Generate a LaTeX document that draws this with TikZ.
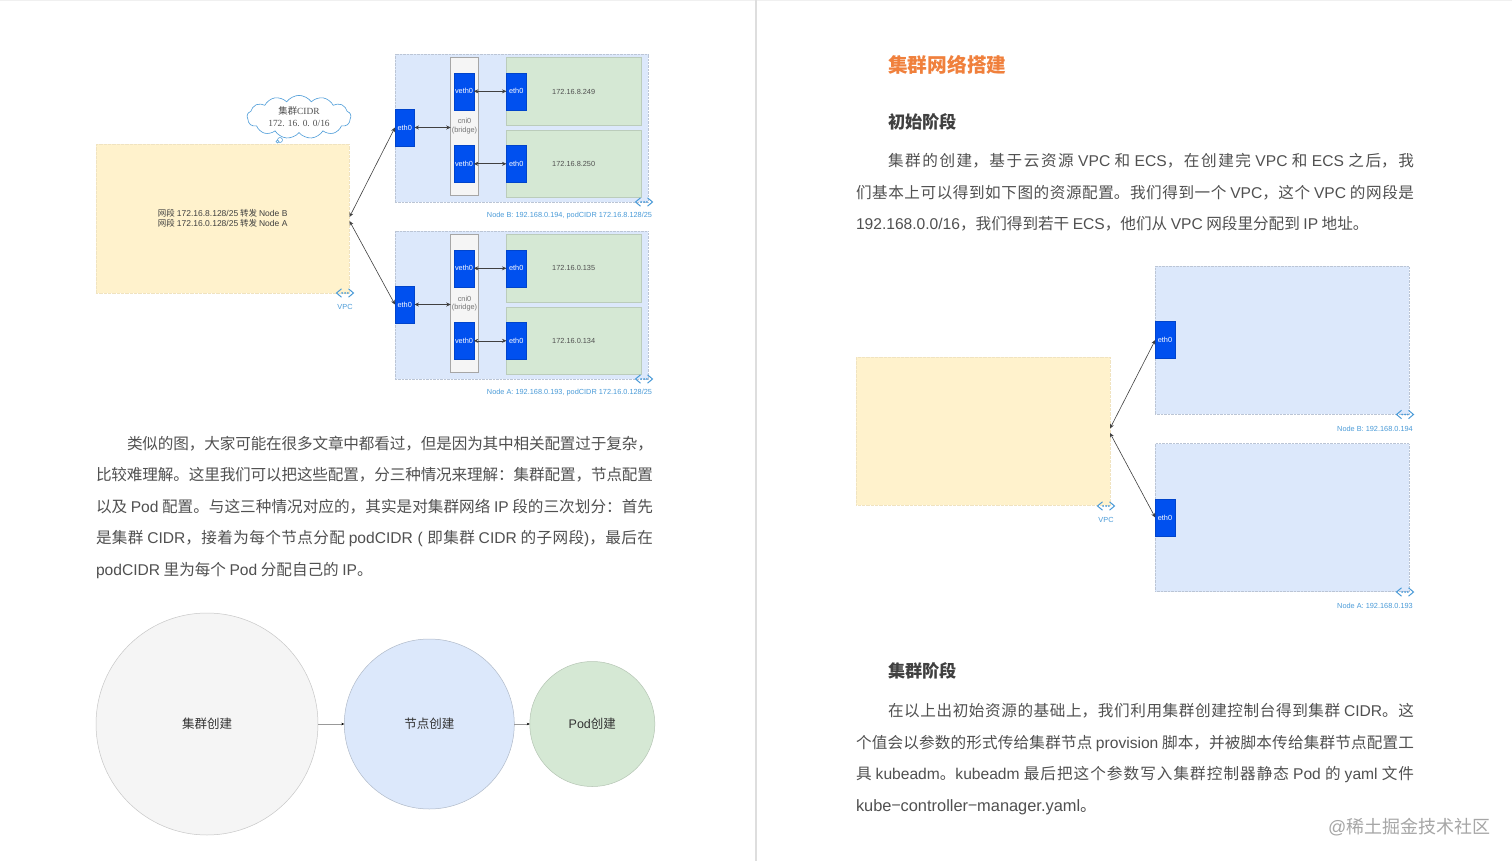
\documentclass[tikz,border=0pt]{standalone}
\usepackage{fontspec}
\usepackage{tikz}
\usetikzlibrary{shapes.symbols,arrows.meta}
\setmainfont{Noto Sans CJK SC}
\newfontfamily\la{Liberation Sans}
\newfontfamily\sr{Liberation Serif}
\XeTeXlinebreaklocale "zh"
\XeTeXlinebreakskip=0pt plus 3pt minus 0.5pt
\tolerance=10000
\definecolor{txt}{HTML}{505050}
\definecolor{ttl}{HTML}{F0803C}
\definecolor{vblue}{HTML}{4A9BD8}
\definecolor{ethc}{HTML}{0050EF}
\definecolor{nodec}{HTML}{DCE8FB}
\definecolor{podc}{HTML}{D5E8D4}
\definecolor{vpcc}{HTML}{FFF2CC}
\tikzstyle{n}=[inner sep=0,outer sep=0,font=\fontsize{7.35}{8.8}\selectfont\la,text=txt,align=center]
\tikzstyle{panel}=[n,fill=nodec,draw=nodec!85!black,densely dotted,line width=0.4pt,minimum width=253.5pt,minimum height=148pt]
\tikzstyle{vpcbox}=[n,fill=vpcc,draw=vpcc!94!black,densely dotted,line width=0.3pt,minimum width=253.5pt,minimum height=148.5pt,text=black!75,font=\fontsize{8.5}{10}\selectfont]
\tikzstyle{pod}=[n,fill=podc,draw=podc!88!black,line width=0.6pt,minimum width=134.5pt,minimum height=67.5pt]
\tikzstyle{bridge}=[n,fill=black!4,draw=black!35,line width=0.8pt,minimum width=27.5pt,minimum height=138pt,text=black!55]
\tikzstyle{eth}=[n,fill=ethc,draw=ethc!85!black,line width=0.3pt,minimum width=19.5pt,minimum height=37pt,text=white]
\tikzstyle{lbl}=[n,text=vblue]
\tikzstyle{blob}=[n,circle,line width=0.5pt,text=black!80,font=\fontsize{12.5}{15}\selectfont]
\tikzstyle{para}=[inner sep=0,outer sep=0,anchor=west,align=justify,text=txt,text height=14.9pt,text depth=3.1pt,font=\fontsize{15.6}{18}\selectfont]
\tikzstyle{head}=[inner sep=0,outer sep=0,anchor=west,font=\bfseries\fontsize{17.2}{20}\selectfont,text=black!75]
\tikzstyle{link}=[black!75,line width=0.6pt,{Stealth[length=4.5pt,width=4pt]}-{Stealth[length=4.5pt,width=4pt]}]
\tikzstyle{flow}=[black!40,line width=0.6pt,-{Stealth[length=3pt,width=2.5pt,black]}]
\tikzset{vpcicon/.pic={
    \draw[vblue,line width=1pt] (-3.5,-4.2) -- (-8.5,0) -- (-3.5,4.2);
    \draw[vblue,line width=1pt] (3.5,-4.2) -- (8.5,0) -- (3.5,4.2);
    \fill[vblue] (-2.8,0) circle (1) (0,0) circle (1) (2.8,0) circle (1);
}}
\newcommand{\lineof}[1]{\parfillskip=0pt\relax #1\par}

\begin{document}
\begin{tikzpicture}[x=1pt,y=-1pt]
    \useasboundingbox (0,0) rectangle (1512,861);
    \fill[white] (0,0) rectangle (1512,861);
    \fill[black!6] (0,0) rectangle (1512,1);
    \fill[black!13] (755,0) rectangle (757,861);

    % left page, top diagram
    \node[vpcbox] (vpc) at (222.7,218.5) {网段 {\la 172.16.8.128/25} 转发 {\la Node B}\\网段 {\la 172.16.0.128/25} 转发 {\la Node A}};
    \node[cloud,cloud puffs=13,cloud puff arc=110,aspect=2.6,draw=vblue,fill=white,line width=0.6pt,inner sep=0,minimum width=104pt,minimum height=43pt,font=\fontsize{9.4}{12}\selectfont,text=txt,align=center] (cidr) at (299,117) {集群{\sr CIDR}\\{\sr 172. 16. 0. 0/16}};
    \node[draw=vblue,fill=white,circle,inner sep=0,minimum size=5pt,line width=0.5pt] (bub) at (280,140) {};
    \node[draw=vblue,fill=white,circle,inner sep=0,minimum size=3pt,line width=0.5pt] (bub2) at (277.5,141.5) {};
    \pic at (345,293) {vpcicon};
    \node[lbl] (vpctxt) at (345,307) {VPC};
    \coordinate (vpcb) at (349.5,217);
    \coordinate (vpca) at (349.5,221);

    \node[panel] (nb) at (521.5,128) {};
    \node[bridge] (cnib) at (464.5,126.5) {cni0\\(bridge)};
    \node[pod] (pb1) at (573.7,91.5) {172.16.8.249};
    \node[pod] (pb2) at (573.7,164) {172.16.8.250};
    \node[eth] (eb) at (404.7,127.5) {eth0};
    \node[eth] (vb1) at (464,91.3) {veth0};
    \node[eth] (vb2) at (464,163.8) {veth0};
    \node[eth] (eb1) at (516.2,91.3) {eth0};
    \node[eth] (eb2) at (516.2,163.8) {eth0};
    \pic at (644,202) {vpcicon};
    \node[lbl] (nbtxt) at (569.5,216) {Node B: 192.168.0.194, podCIDR 172.16.8.128/25};

    \node[panel] (na) at (521.5,304.7) {};
    \node[bridge] (cnia) at (464.5,303.5) {cni0\\(bridge)};
    \node[pod] (pa1) at (573.7,268.3) {172.16.0.135};
    \node[pod] (pa2) at (573.7,341) {172.16.0.134};
    \node[eth] (ea) at (404.7,304.5) {eth0};
    \node[eth] (va1) at (464,268.3) {veth0};
    \node[eth] (va2) at (464,340.8) {veth0};
    \node[eth] (ea1) at (516.2,268.3) {eth0};
    \node[eth] (ea2) at (516.2,340.8) {eth0};
    \pic at (644,379) {vpcicon};
    \node[lbl] (natxt) at (569.5,393) {Node A: 192.168.0.193, podCIDR 172.16.0.128/25};

    \draw[link] (eb.west) -- (vpcb);
    \draw[link] (ea.west) -- (vpca);
    \draw[link] (eb.east) -- (cnib.west |- eb.east);
    \draw[link] (ea.east) -- (cnia.west |- ea.east);
    \draw[link] (vb1.east) -- (eb1.west);
    \draw[link] (vb2.east) -- (eb2.west);
    \draw[link] (va1.east) -- (ea1.west);
    \draw[link] (va2.east) -- (ea2.west);

    % left page, text
    \node[para,text width=526pt] (l1) at (127,443.5) {\lineof{类似的图，大家可能在很多文章中都看过，但是因为其中相关配置过于复杂，}};
    \node[para,text width=557pt] (l2) at (96,475) {\lineof{比较难理解。这里我们可以把这些配置，分三种情况来理解：集群配置，节点配置}};
    \node[para,text width=557pt] (l3) at (96,506.5) {\lineof{以及 {\la Pod} 配置。与这三种情况对应的，其实是对集群网络 {\la IP} 段的三次划分：首先}};
    \node[para,text width=557pt] (l4) at (96,538) {\lineof{是集群 {\la CIDR}，接着为每个节点分配 {\la podCIDR ( }即集群 {\la CIDR} 的子网段{\la )}，最后在}};
    \node[para,align=left] (l5) at (96,569.5) {{\la podCIDR} 里为每个 {\la Pod} 分配自己的 {\la IP}。};

    % left page, circles
    \node[blob,fill=black!4,draw=black!22,minimum size=222pt] (c1) at (207,724) {集群创建};
    \node[blob,fill=nodec,draw=nodec!80!black,minimum size=170pt] (c2) at (429.3,724) {节点创建};
    \node[blob,fill=podc,draw=podc!85!black,minimum size=125pt] (c3) at (592.3,724) {{\la Pod}创建};
    \draw[flow] (c1) -- (c2);
    \draw[flow] (c2) -- (c3);

    % right page, text
    \node[inner sep=0,anchor=west,font=\bfseries\fontsize{19.7}{22}\selectfont,text=ttl] (title) at (888,64.5) {集群网络搭建};
    \node[head] (h1) at (888,122) {初始阶段};
    \node[para,text width=526pt] (r1) at (888,160.5) {\lineof{集群的创建，基于云资源 {\la VPC} 和 {\la ECS}，在创建完 {\la VPC} 和 {\la ECS} 之后，我}};
    \node[para,text width=558pt] (r2) at (856,192.5) {\lineof{们基本上可以得到如下图的资源配置。我们得到一个 {\la VPC}，这个 {\la VPC} 的网段是}};
    \node[para,align=left] (r3) at (856,224) {{\la 192.168.0.0/16}，我们得到若干 {\la ECS}，他们从 {\la VPC} 网段里分配到 {\la IP} 地址。};

    % right page, diagram
    \node[vpcbox] (vpcr) at (983.2,431.2) {};
    \node[panel] (nbr) at (1282,340.2) {};
    \node[panel] (nar) at (1282,517.5) {};
    \node[eth] (ebr) at (1165,340) {eth0};
    \node[eth] (ear) at (1165,517.5) {eth0};
    \pic at (1405,414.5) {vpcicon};
    \pic at (1405,592) {vpcicon};
    \pic at (1106,506) {vpcicon};
    \node[lbl] (vpcrtxt) at (1106,519.5) {VPC};
    \node[lbl] (nbrtxt) at (1375,428.5) {Node B: 192.168.0.194};
    \node[lbl] (narrtxt) at (1375,606) {Node A: 192.168.0.193};
    \coordinate (vpcrb) at (1110,428.5);
    \coordinate (vpcra) at (1110,433);

    \draw[link] (ebr.west) -- (vpcrb);
    \draw[link] (ear.west) -- (vpcra);

    % right page, text below
    \node[head] (h2) at (888,671) {集群阶段};
    \node[para,text width=526pt] (r4) at (888,710.5) {\lineof{在以上出初始资源的基础上，我们利用集群创建控制台得到集群 {\la CIDR}。这}};
    \node[para,text width=558pt] (r5) at (856,742.5) {\lineof{个值会以参数的形式传给集群节点 {\la provision} 脚本，并被脚本传给集群节点配置工}};
    \node[para,text width=558pt] (r6) at (856,773.5) {\lineof{具 {\la kubeadm}。{\la kubeadm} 最后把这个参数写入集群控制器静态 {\la Pod} 的 {\la yaml} 文件}};
    \node[para,align=left,font=\fontsize{16.4}{18}\selectfont] (r7) at (856,805.5) {{\la kube{\fontspec{Noto Sans CJK SC}−}controller{\fontspec{Noto Sans CJK SC}−}manager.yaml}。};

    \node[inner sep=0,anchor=west,font=\fontsize{18}{20}\selectfont,text=black!35] (mark) at (1328,827) {{\la @}稀土掘金技术社区};

\end{tikzpicture}
\end{document}
